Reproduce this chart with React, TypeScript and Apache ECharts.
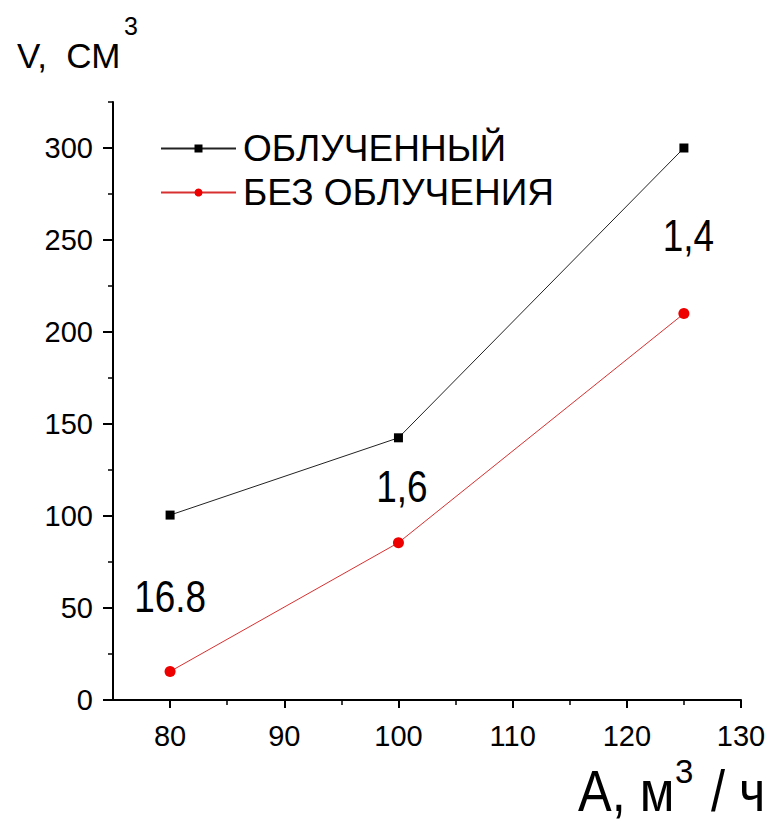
import React, { useEffect, useRef } from "react";
import * as echarts from "echarts";

const seriesNames = ["ОБЛУЧЕННЫЙ", "БЕЗ ОБЛУЧЕНИЯ"];
const xValues = [80, 100, 125];
const irradiated = [100.5, 142.5, 300];
const notIrradiated = [15.5, 85.5, 210];

const xMajor = [80, 90, 100, 110, 120, 130];
const xMinor = [85, 95, 105, 115, 125];
const yMajor = [0, 50, 100, 150, 200, 250, 300];
const yMinor = [25, 75, 125, 175, 225, 275, 325];

const annotations: [number, number, string][] = [
  [80, 56, "16.8"],
  [100.3, 116, "1,6"],
  [125.4, 252, "1,4"],
];

const FONT = "'Liberation Sans', Arial, sans-serif";

export default function App() {
  const ref = useRef<HTMLDivElement>(null);
  useEffect(() => {
    if (!ref.current) return;
    const chart = echarts.init(ref.current, undefined, { renderer: "svg" });
    const axisLineStyle = { color: "#000", width: 2 };
    const labelStyle = { color: "#000", fontSize: 29, fontFamily: FONT };
    chart.setOption({
      animation: false,
      backgroundColor: "#fff",
      grid: { left: 113, right: 28, top: 102, bottom: 126 },
      legend: {
        data: seriesNames,
        orient: "vertical",
        left: 155,
        top: 125,
        itemWidth: 75,
        itemHeight: 10,
        itemGap: 7,
        textStyle: { color: "#000", fontSize: 37, fontFamily: FONT, padding: [0, 0, 0, 2] },
      },
      xAxis: [
        {
          type: "value",
          min: 75,
          max: 130,
          position: "bottom",
          axisLine: { show: true, onZero: false, lineStyle: axisLineStyle },
          axisTick: { show: true, customValues: xMajor, length: 8, lineStyle: { color: "#000", width: 2 } },
          axisLabel: { show: true, customValues: xMajor, margin: 21, ...labelStyle },
          splitLine: { show: false },
        },
        {
          type: "value",
          min: 75,
          max: 130,
          position: "bottom",
          axisLine: { show: false },
          axisTick: { show: true, customValues: xMinor, length: 5, lineStyle: { color: "#000", width: 1.5 } },
          axisLabel: { show: false },
          splitLine: { show: false },
        },
      ],
      yAxis: [
        {
          type: "value",
          min: 0,
          max: 325,
          position: "left",
          axisLine: { show: true, onZero: false, lineStyle: axisLineStyle },
          axisTick: { show: true, customValues: yMajor, length: 10, lineStyle: { color: "#000", width: 2 } },
          axisLabel: { show: true, customValues: yMajor, margin: 20, ...labelStyle },
          splitLine: { show: false },
        },
        {
          type: "value",
          min: 0,
          max: 325,
          position: "left",
          axisLine: { show: false },
          axisTick: { show: true, customValues: yMinor, length: 5, lineStyle: { color: "#000", width: 1.5 } },
          axisLabel: { show: false },
          splitLine: { show: false },
        },
      ],
      series: [
        {
          name: seriesNames[0],
          type: "line",
          data: xValues.map((x, i) => [x, irradiated[i]]),
          symbol: "rect",
          symbolSize: 9,
          itemStyle: { color: "#000" },
          lineStyle: { color: "#222", width: 1 },
          z: 3,
        },
        {
          name: seriesNames[1],
          type: "line",
          data: xValues.map((x, i) => [x, notIrradiated[i]]),
          symbol: "circle",
          symbolSize: 11,
          itemStyle: { color: "#ee0000" },
          lineStyle: { color: "#d83030", width: 1 },
          z: 3,
        },
      ],
    });

    const annoGraphics = annotations.map(([x, y, t]) => {
      const p = chart.convertToPixel({ gridIndex: 0 }, [x, y]) as number[];
      return {
        type: "text",
        x: p[0],
        y: p[1],
        scaleX: 0.84,
        z: 10,
        style: {
          text: t,
          fontSize: 44,
          fontFamily: FONT,
          fill: "#000",
          align: "center",
          verticalAlign: "middle",
        },
      };
    });

    chart.setOption({
      graphic: [
        {
          type: "text",
          left: 17,
          top: 38,
          style: { text: "V,  СМ", fontSize: 35, fontFamily: FONT, fill: "#000" },
        },
        {
          type: "text",
          left: 124,
          top: 13,
          style: { text: "3", fontSize: 25, fontFamily: FONT, fill: "#000" },
        },
        {
          type: "text",
          x: 578,
          y: 791,
          scaleX: 0.87,
          style: { text: "A, м", fontSize: 58, lineHeight: 44, fontFamily: FONT, fill: "#000", verticalAlign: "middle" },
        },
        {
          type: "text",
          x: 675,
          y: 755,
          style: { text: "3", fontSize: 33, fontFamily: FONT, fill: "#000" },
        },
        {
          type: "text",
          x: 711,
          y: 791,
          scaleX: 0.87,
          style: { text: "/ ч", fontSize: 58, lineHeight: 44, fontFamily: FONT, fill: "#000", verticalAlign: "middle" },
        },
        ...annoGraphics,
      ],
    });
    return () => chart.dispose();
  }, []);
  return (
    <div
      ref={ref}
      style={{ position: "fixed", left: 0, top: 0, width: 769, height: 826, background: "#fff" }}
    />
  );
}
